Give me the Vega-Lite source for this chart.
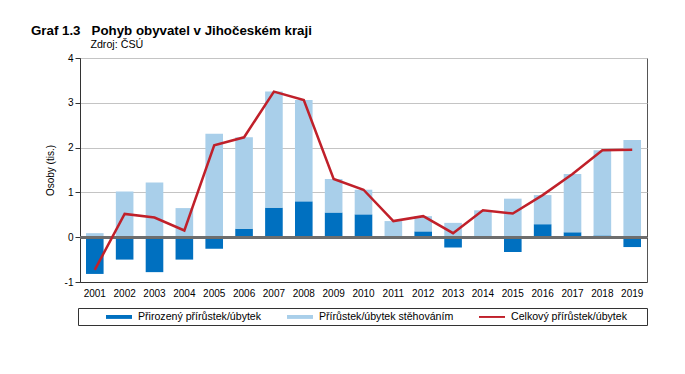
{
  "$schema": "https://vega.github.io/schema/vega-lite/v6.json",
  "autosize": {"type": "none"},
  "padding": {"left": 80, "top": 58, "right": 38, "bottom": 92},
  "width": 567,
  "height": 224,
  "background": "#ffffff",
  "config": {
    "font": "Liberation Sans",
    "view": {"stroke": "#555555", "strokeWidth": 1},
    "axis": {"labelFont": "Liberation Sans", "titleFont": "Liberation Sans", "labelColor": "#000000", "titleColor": "#000000"}
  },
  "title": {
    "text": "Graf 1.3\u00a0\u00a0\u00a0Pohyb obyvatel v Jihočeském kraji",
    "subtitle": "\u200b\u00a0\u00a0\u00a0\u00a0\u00a0\u00a0\u00a0\u00a0\u00a0\u00a0\u00a0\u00a0\u00a0\u00a0\u00a0\u00a0\u00a0\u00a0\u00a0\u00a0Zdroj: ČSÚ",
    "anchor": "start",
    "frame": "group",
    "dx": -49,
    "offset": 3,
    "font": "Liberation Sans",
    "fontSize": 13.3,
    "fontWeight": "bold",
    "color": "#000000",
    "subtitleFont": "Liberation Sans",
    "subtitleFontSize": 10.7,
    "subtitleColor": "#000000",
    "subtitlePadding": 3
  },
  "datasets": {
    "d": [
      {"rok": "2001", "rada": "Přirozený přírůstek/úbytek", "hodnota": -0.82},
      {"rok": "2001", "rada": "Přírůstek/úbytek stěhováním", "hodnota": 0.09},
      {"rok": "2001", "rada": "Celkový přírůstek/úbytek", "hodnota": -0.73},
      {"rok": "2002", "rada": "Přirozený přírůstek/úbytek", "hodnota": -0.50},
      {"rok": "2002", "rada": "Přírůstek/úbytek stěhováním", "hodnota": 1.02},
      {"rok": "2002", "rada": "Celkový přírůstek/úbytek", "hodnota": 0.52},
      {"rok": "2003", "rada": "Přirozený přírůstek/úbytek", "hodnota": -0.78},
      {"rok": "2003", "rada": "Přírůstek/úbytek stěhováním", "hodnota": 1.22},
      {"rok": "2003", "rada": "Celkový přírůstek/úbytek", "hodnota": 0.44},
      {"rok": "2004", "rada": "Přirozený přírůstek/úbytek", "hodnota": -0.50},
      {"rok": "2004", "rada": "Přírůstek/úbytek stěhováním", "hodnota": 0.65},
      {"rok": "2004", "rada": "Celkový přírůstek/úbytek", "hodnota": 0.15},
      {"rok": "2005", "rada": "Přirozený přírůstek/úbytek", "hodnota": -0.26},
      {"rok": "2005", "rada": "Přírůstek/úbytek stěhováním", "hodnota": 2.31},
      {"rok": "2005", "rada": "Celkový přírůstek/úbytek", "hodnota": 2.05},
      {"rok": "2006", "rada": "Přirozený přírůstek/úbytek", "hodnota": 0.19},
      {"rok": "2006", "rada": "Přírůstek/úbytek stěhováním", "hodnota": 2.04},
      {"rok": "2006", "rada": "Celkový přírůstek/úbytek", "hodnota": 2.23},
      {"rok": "2007", "rada": "Přirozený přírůstek/úbytek", "hodnota": 0.66},
      {"rok": "2007", "rada": "Přírůstek/úbytek stěhováním", "hodnota": 2.59},
      {"rok": "2007", "rada": "Celkový přírůstek/úbytek", "hodnota": 3.25},
      {"rok": "2008", "rada": "Přirozený přírůstek/úbytek", "hodnota": 0.80},
      {"rok": "2008", "rada": "Přírůstek/úbytek stěhováním", "hodnota": 2.26},
      {"rok": "2008", "rada": "Celkový přírůstek/úbytek", "hodnota": 3.06},
      {"rok": "2009", "rada": "Přirozený přírůstek/úbytek", "hodnota": 0.55},
      {"rok": "2009", "rada": "Přírůstek/úbytek stěhováním", "hodnota": 0.75},
      {"rok": "2009", "rada": "Celkový přírůstek/úbytek", "hodnota": 1.30},
      {"rok": "2010", "rada": "Přirozený přírůstek/úbytek", "hodnota": 0.51},
      {"rok": "2010", "rada": "Přírůstek/úbytek stěhováním", "hodnota": 0.55},
      {"rok": "2010", "rada": "Celkový přírůstek/úbytek", "hodnota": 1.06},
      {"rok": "2011", "rada": "Přirozený přírůstek/úbytek", "hodnota": 0.01},
      {"rok": "2011", "rada": "Přírůstek/úbytek stěhováním", "hodnota": 0.35},
      {"rok": "2011", "rada": "Celkový přírůstek/úbytek", "hodnota": 0.36},
      {"rok": "2012", "rada": "Přirozený přírůstek/úbytek", "hodnota": 0.13},
      {"rok": "2012", "rada": "Přírůstek/úbytek stěhováním", "hodnota": 0.34},
      {"rok": "2012", "rada": "Celkový přírůstek/úbytek", "hodnota": 0.47},
      {"rok": "2013", "rada": "Přirozený přírůstek/úbytek", "hodnota": -0.23},
      {"rok": "2013", "rada": "Přírůstek/úbytek stěhováním", "hodnota": 0.32},
      {"rok": "2013", "rada": "Celkový přírůstek/úbytek", "hodnota": 0.09},
      {"rok": "2014", "rada": "Přirozený přírůstek/úbytek", "hodnota": 0.01},
      {"rok": "2014", "rada": "Přírůstek/úbytek stěhováním", "hodnota": 0.59},
      {"rok": "2014", "rada": "Celkový přírůstek/úbytek", "hodnota": 0.60},
      {"rok": "2015", "rada": "Přirozený přírůstek/úbytek", "hodnota": -0.33},
      {"rok": "2015", "rada": "Přírůstek/úbytek stěhováním", "hodnota": 0.86},
      {"rok": "2015", "rada": "Celkový přírůstek/úbytek", "hodnota": 0.53},
      {"rok": "2016", "rada": "Přirozený přírůstek/úbytek", "hodnota": 0.29},
      {"rok": "2016", "rada": "Přírůstek/úbytek stěhováním", "hodnota": 0.65},
      {"rok": "2016", "rada": "Celkový přírůstek/úbytek", "hodnota": 0.94},
      {"rok": "2017", "rada": "Přirozený přírůstek/úbytek", "hodnota": 0.11},
      {"rok": "2017", "rada": "Přírůstek/úbytek stěhováním", "hodnota": 1.30},
      {"rok": "2017", "rada": "Celkový přírůstek/úbytek", "hodnota": 1.41},
      {"rok": "2018", "rada": "Přirozený přírůstek/úbytek", "hodnota": 0.04},
      {"rok": "2018", "rada": "Přírůstek/úbytek stěhováním", "hodnota": 1.90},
      {"rok": "2018", "rada": "Celkový přírůstek/úbytek", "hodnota": 1.94},
      {"rok": "2019", "rada": "Přirozený přírůstek/úbytek", "hodnota": -0.22},
      {"rok": "2019", "rada": "Přírůstek/úbytek stěhováním", "hodnota": 2.17},
      {"rok": "2019", "rada": "Celkový přírůstek/úbytek", "hodnota": 1.95}
    ]
  },
  "data": {"name": "d"},
  "encoding": {
    "x": {
      "field": "rok",
      "type": "ordinal",
      "scale": {"paddingInner": 0.41, "paddingOuter": 0.2},
      "axis": {
        "title": null,
        "labelAngle": 0,
        "labelFontSize": 10,
        "labelPadding": 6,
        "ticks": false,
        "domainColor": "#333333",
        "grid": false
      }
    }
  },
  "layer": [
    {
      "transform": [{"filter": "datum.rada != 'Celkový přírůstek/úbytek'"}],
      "mark": {"type": "bar"},
      "encoding": {
        "y": {
          "field": "hodnota",
          "type": "quantitative",
          "stack": "zero",
          "scale": {"domain": [-1, 4], "nice": false, "zero": false},
          "axis": {
            "title": "Osoby (tis.)",
            "titleFontSize": 10,
            "titleFontWeight": "normal",
            "titlePadding": 9,
            "values": [-1, 0, 1, 2, 3, 4],
            "labelExpr": "replace(datum.label, '−', '-')",
            "labelFontSize": 10,
            "labelPadding": 2,
            "tickSize": 5,
            "tickColor": "#333333",
            "domainColor": "#333333",
            "gridColor": "#c4c4c4",
            "grid": true
          }
        },
        "color": {
          "field": "rada",
          "type": "nominal",
          "scale": {
            "domain": ["Přirozený přírůstek/úbytek", "Přírůstek/úbytek stěhováním", "Celkový přírůstek/úbytek"],
            "range": ["#0070c0", "#a9cfea", "#c0202a"]
          },
          "legend": {
            "orient": "none",
            "legendX": -2,
            "legendY": 250,
            "direction": "horizontal",
            "title": "\u00a0",
            "titleOrient": "left",
            "titleFontSize": 2,
            "titlePadding": 26,
            "padding": 2,
            "strokeColor": "#333333",
            "columnPadding": 25,
            "labelFont": "Liberation Sans",
            "labelFontSize": 10.6,
            "labelColor": "#000000",
            "labelOffset": 12.5,
            "labelLimit": 250,
            "symbolType": "M-2,-0.3H2V0.3H-2Z",
            "symbolSize": 169,
            "symbolOffset": 6.5,
            "symbolStrokeWidth": 0,
            "labelExpr": "datum.value == 'Celkový přírůstek/úbytek' ? datum.label + '\u00a0\u00a0\u00a0\u00a0\u00a0\u00a0\u200b' : datum.label",
            "encode": {
              "symbols": {
                "update": {
                  "shape": {"signal": "datum.value == 'Celkový přírůstek/úbytek' ? 'M-2,-0.15H2V0.15H-2Z' : 'M-2,-0.3H2V0.3H-2Z'"}
                }
              }
            }
          }
        },
        "order": {"field": "rada", "sort": "ascending"}
      }
    },
    {
      "mark": {"type": "rule", "color": "#6e6e6e", "strokeWidth": 2},
      "encoding": {"y": {"datum": 0}, "x": null}
    },
    {
      "transform": [{"filter": "datum.rada == 'Celkový přírůstek/úbytek'"}],
      "mark": {"type": "line", "color": "#c0202a", "strokeWidth": 2.5},
      "encoding": {
        "y": {"field": "hodnota", "type": "quantitative"}
      }
    }
  ]
}
